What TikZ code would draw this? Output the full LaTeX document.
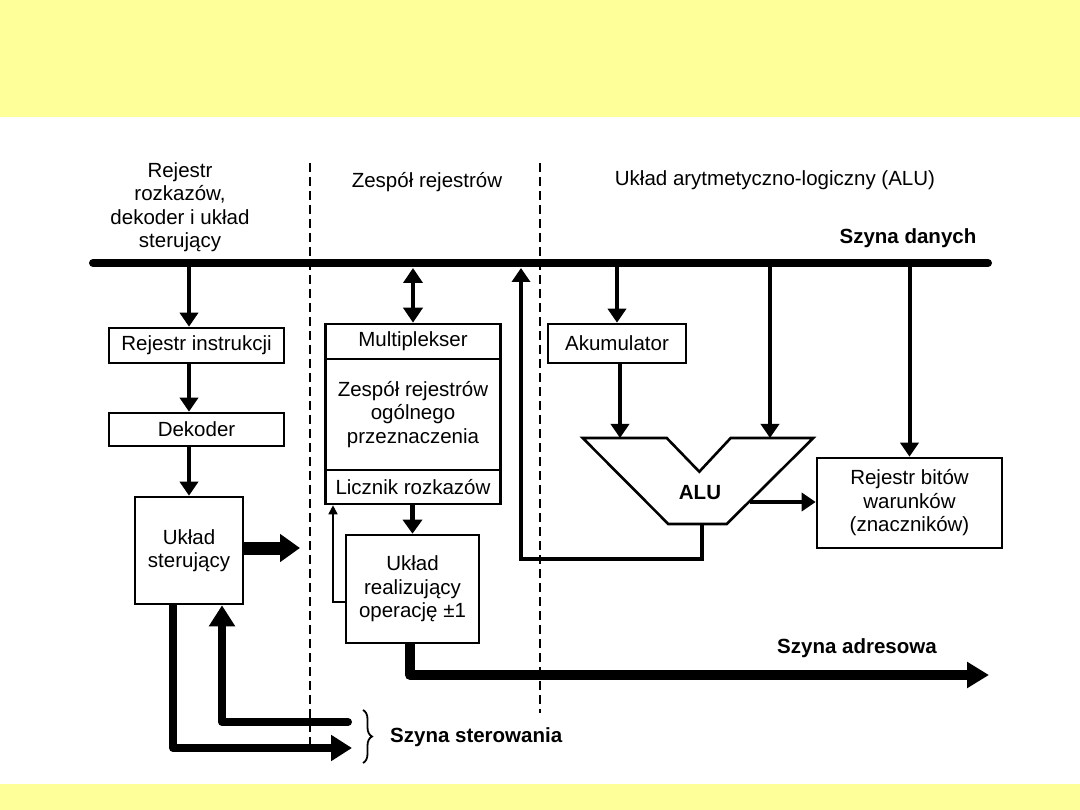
\documentclass[tikz,border=0pt]{standalone}
\usepackage{fontspec}
\setmainfont{Liberation Sans}
\usetikzlibrary{arrows.meta, positioning, calc, decorations.pathreplacing}
\definecolor{SlideYellow}{HTML}{FFFF99}
\newcommand{\labfont}{\fontsize{20.5}{23.5}\selectfont}

\begin{document}
\begin{tikzpicture}[x=1pt, y=-1pt,
    box/.style={draw, line width=2.6pt, font=\labfont, align=center, inner sep=0pt},
    lbl/.style={font=\labfont, align=center, inner sep=0pt},
    blbl/.style={font=\labfont\bfseries, align=center, inner sep=0pt},
    arr/.style={line width=4pt, -{Triangle[width=18pt, length=14pt]}},
    dblarr/.style={line width=4pt, {Triangle[width=19pt, length=15pt]}-{Triangle[width=19pt, length=15pt]}},
    fatarr/.style={line width=8pt, line join=round, -{Triangle[width=25pt, length=21pt]}},
    thinarr/.style={line width=1.6pt, -{Triangle[width=9pt, length=9pt]}},
    divider/.style={line width=1.8pt, dash pattern=on 9pt off 5pt}]

    % Slide background
    \useasboundingbox (0,0) rectangle (1080,810);
    \fill[white] (0,0) rectangle (1080,810);
    \fill[SlideYellow] (0,0) rectangle (1080,117);
    \fill[SlideYellow] (0,784) rectangle (1080,810);

    % Section dividers
    \draw[divider] (310,163) -- (310,752);
    \draw[divider] (540,163) -- (540,713);

    % Section titles
    \node[lbl] (tcu) at (180,207) {Rejestr\\rozkazów,\\dekoder i układ\\sterujący};
    \node[lbl] (treg) at (427,182) {Zespół rejestrów};
    \node[lbl] (talu) at (775,180) {Układ arytmetyczno-logiczny (ALU)};

    % Data bus
    \coordinate (busL) at (93,263);
    \coordinate (busR) at (988,263);
    \coordinate (busbot) at (0,268);
    \draw[line width=8pt, line cap=round] (busL) -- (busR);
    \node[blbl] (tdata) at (908,238) {Szyna danych};

    % Control unit column
    \node[box, minimum width=175, minimum height=35] (ri) at (196.5,345.5) {Rejestr instrukcji};
    \node[box, minimum width=175, minimum height=33] (dek) at (196.5,429.5) {Dekoder};
    \node[box, minimum width=108, minimum height=107] (us) at (189,550.5) {Układ\\sterujący};

    \draw[arr] (ri.north -| us.north) ++(0,0) coordinate (riin) (riin |- busL) -- (riin);
    \draw[arr] (ri.south -| us.north) -- (dek.north -| us.north);
    \draw[arr] (dek.south -| us.north) -- (us.north);

    % Register file column
    \node[box, minimum width=175.5, minimum height=35] (mux) at (413,341.5) {Multiplekser};
    \node[box, minimum width=175.5, minimum height=111] (zrog) at (413,414.5) {Zespół rejestrów\\ogólnego\\przeznaczenia};
    \node[box, minimum width=175.5, minimum height=34] (licz) at (413,487) {Licznik rozkazów};
    \node[box, minimum width=133, minimum height=108] (ur) at (412.5,589) {Układ\\realizujący\\operację ±1};

    \draw[dblarr] (mux.north |- busbot) -- (mux.north);
    \draw[line width=5pt, -{Triangle[width=19pt, length=14pt]}] (ur.north |- licz.south) -- (ur.north);

    % Counter feedback
    \coordinate (fbk) at (333,602);
    \draw[thinarr] (ur.west |- fbk) -- (fbk) -- (fbk |- licz.south);

    % ALU column
    \node[box, minimum width=138, minimum height=39] (akk) at (617,343.5) {Akumulator};
    \node[box, minimum width=185, minimum height=90] (flg) at (909.5,503) {Rejestr bitów\\warunków\\(znaczników)};

    \draw[line width=2.6pt, line join=miter]
        (582.7,438) -- (666.7,438) -- (699.3,471.7) -- (730.7,438) -- (813.3,438)
        -- (726.7,524) -- (668.3,524) -- cycle;
    \node[blbl] (alu) at (700,493) {ALU};
    \coordinate (aluinL) at (620,438);
    \coordinate (aluinR) at (770,438);
    \coordinate (aluout) at (750,502);
    \coordinate (alubot) at (702,524);
    \coordinate (aluret) at (521,559);

    \draw[arr] (akk.north |- busL) -- (akk.north);
    \draw[arr] (akk.south -| aluinL) -- (aluinL);
    \draw[arr] (aluinR |- busL) -- (aluinR);
    \draw[arr] (flg.north |- busL) -- (flg.north);
    \draw[arr] (aluout) -- (aluout -| flg.west);
    \draw[arr, line join=miter] (alubot) -- (alubot |- aluret) -- (aluret) -- (aluret |- busbot);

    % Control outputs
    \coordinate (usout) at (300,548);
    \draw[line width=13pt, -{Triangle[width=27pt, length=20pt]}] (us.east |- usout) -- (usout);

    % Control bus
    \coordinate (ctlA) at (173,748);
    \coordinate (ctlAend) at (352,748);
    \coordinate (ctlB) at (222,722);
    \coordinate (ctlBstart) at (348,722);
    \draw[fatarr] (ctlA |- us.south) -- (ctlA) -- (ctlAend);
    \draw[fatarr, line cap=round] (ctlBstart) -- (ctlB) -- (ctlB |- us.south);
    \draw[line width=1.8pt, decorate, decoration={brace, amplitude=9pt}] (363,710) -- (363,763);
    \node[blbl, anchor=west] (tctl) at (390,737) {Szyna sterowania};

    % Address bus
    \coordinate (adr) at (410,675);
    \coordinate (adrEnd) at (989,675);
    \draw[line width=10pt, line join=round, -{Triangle[width=25pt, length=22pt]}] (ur.south -| adr) -- (adr) -- (adrEnd);
    \node[blbl] (tadr) at (857,648) {Szyna adresowa};
\end{tikzpicture}
\end{document}
